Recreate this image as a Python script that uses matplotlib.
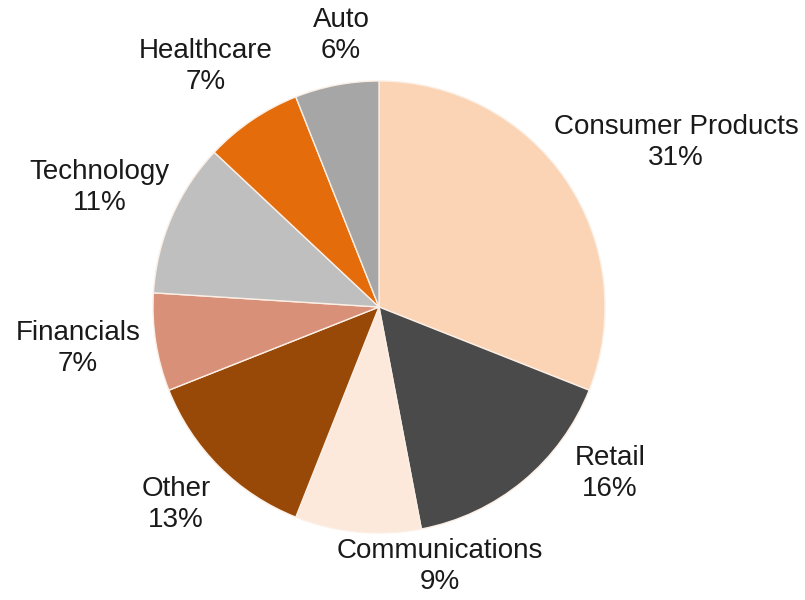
import matplotlib
matplotlib.use("Agg")
import matplotlib.pyplot as plt

categories = ["Consumer Products", "Retail", "Communications", "Other",
              "Financials", "Technology", "Healthcare", "Auto"]
values = [31, 16, 9, 13, 7, 11, 7, 6]
colors = ["#FAD4B4", "#4A4A4A", "#FDE9DB", "#984807", "#D99079",
          "#BFBFBF", "#E46C0A", "#A6A6A6"]
# label positions (in units of pie radius) for each category
label_pos = [(1.314, 0.728), (1.022, -0.735), (0.270, -1.150), (-0.898, -0.872),
             (-1.332, -0.182), (-1.235, 0.530), (-0.765, 1.066), (-0.168, 1.200)]

plt.rcParams['font.family'] = ['Liberation Sans', 'DejaVu Sans']

fig = plt.figure(figsize=(8.05, 6.0), dpi=100)
cx, cy, r = 379, 600 - 307, 226
ax = fig.add_axes([(cx - r) / 805, (cy - r) / 600, 2 * r / 805, 2 * r / 600])

labels = [f"{c}\n{v}%" for c, v in zip(categories, values)]
wedges, texts = ax.pie(values, colors=colors, startangle=90, counterclock=False,
                       labels=labels, radius=1.0,
                       wedgeprops=dict(edgecolor="#FBEFE6", linewidth=1.0),
                       textprops=dict(fontsize=20, color="#1a1a1a"))
for t, (x, y) in zip(texts, label_pos):
    t.set_position((x, y))
    t.set_ha("center")
    t.set_va("center")
    t.set_multialignment("center")
    t.set_linespacing(1.25)

ax.set_xlim(-1, 1)
ax.set_ylim(-1, 1)
ax.set_aspect("equal")
ax.axis("off")

fig.savefig("out.png", dpi=100, facecolor="white")
